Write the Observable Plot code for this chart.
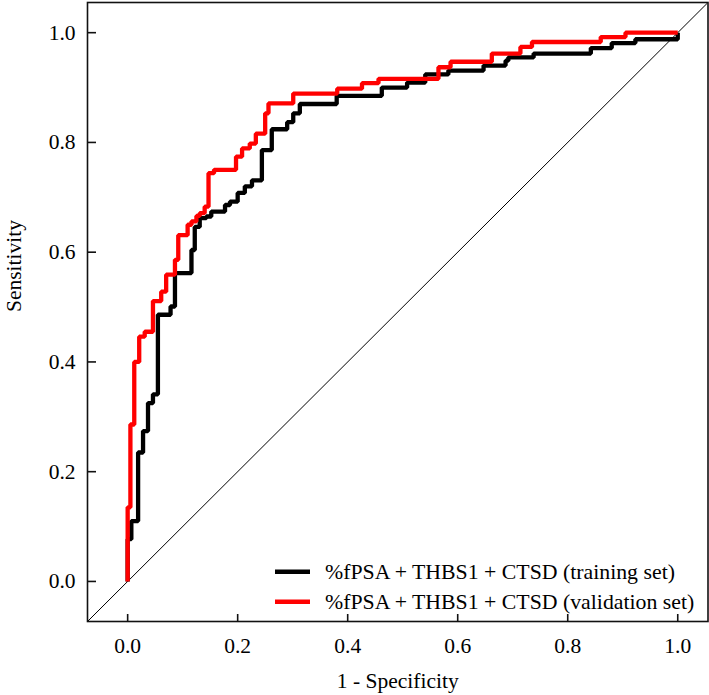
<!DOCTYPE html>
<html>
<head>
<meta charset="utf-8">
<script src="https://cdn.jsdelivr.net/npm/d3@7"></script>
<script src="https://cdn.jsdelivr.net/npm/@observablehq/plot@0.6"></script>
<style>
  body { margin: 0; background: #fff; }
  #chart { position: relative; width: 709px; height: 695px; }
  #legend { position: absolute; left: 0; top: 0; pointer-events: none; }
</style>
</head>
<body>
<div id="chart"></div>
<script>
// ---- data ----
const seriesNames = [
  "%fPSA + THBS1 + CTSD (training set)",
  "%fPSA + THBS1 + CTSD (validation set)"
];
const seriesColors = ["#000000", "#ff0000"];

const trainingFPR = [0, 0, 0.0067, 0.019, 0.028, 0.037, 0.046, 0.055, 0.078, 0.086, 0.116, 0.122, 0.131, 0.143, 0.152, 0.177, 0.186, 0.200, 0.213, 0.226, 0.244, 0.262, 0.290, 0.301, 0.313, 0.380, 0.462, 0.508, 0.541, 0.583, 0.647, 0.687, 0.692, 0.738, 0.842, 0.880, 0.923, 1.0];
const trainingTPR = [0, 0.077, 0.110, 0.235, 0.274, 0.325, 0.341, 0.486, 0.501, 0.562, 0.604, 0.646, 0.662, 0.665, 0.674, 0.686, 0.692, 0.708, 0.720, 0.731, 0.786, 0.824, 0.837, 0.853, 0.870, 0.885, 0.900, 0.909, 0.924, 0.931, 0.940, 0.949, 0.955, 0.962, 0.972, 0.981, 0.988, 1.0];

const validationFPR = [0, 0, 0.005, 0.012, 0.021, 0.031, 0.046, 0.061, 0.070, 0.086, 0.092, 0.109, 0.116, 0.125, 0.131, 0.140, 0.147, 0.157, 0.197, 0.208, 0.222, 0.233, 0.250, 0.256, 0.301, 0.381, 0.426, 0.456, 0.565, 0.587, 0.662, 0.714, 0.735, 0.860, 0.905, 1.0];
const validationTPR = [0, 0.135, 0.286, 0.400, 0.446, 0.455, 0.511, 0.528, 0.559, 0.586, 0.631, 0.650, 0.656, 0.666, 0.671, 0.683, 0.744, 0.750, 0.774, 0.789, 0.798, 0.816, 0.853, 0.871, 0.889, 0.898, 0.908, 0.916, 0.937, 0.947, 0.962, 0.974, 0.983, 0.992, 1.0, 1.0];

const xTicks = [0, 0.2, 0.4, 0.6, 0.8, 1.0];
const yTicks = [0, 0.2, 0.4, 0.6, 0.8, 1.0];
const xLabel = "1 - Specificity";
const yLabel = "Sensitivity";
const axisDomain = [-0.073, 1.055];

// ---- build tables ----
const training = trainingFPR.map((x, i) => ({x, y: trainingTPR[i], s: seriesNames[0]}));
const validation = validationFPR.map((x, i) => ({x, y: validationTPR[i], s: seriesNames[1]}));
const diagonal = axisDomain.map(v => ({x: v, y: v}));

const W = 709, H = 695;
const mL = 87, mR = 1.5, mT = 2, mB = 74;
const plotW = W - mL - mR, plotH = H - mT - mB;
const font = "'Liberation Serif', 'Times New Roman', serif";
const fs = 21.5;
const fmt = d3.format(".1f");

const chart = Plot.plot({
  width: W,
  height: H,
  marginLeft: mL,
  marginRight: mR,
  marginTop: mT,
  marginBottom: mB,
  style: {fontFamily: font, fontSize: fs + "px", color: "#000", background: "#fff"},
  x: {domain: axisDomain, label: null},
  y: {domain: axisDomain, label: null},
  marks: [
    Plot.line(diagonal, {x: "x", y: "y", stroke: "#000", strokeWidth: 1, clip: true}),
    Plot.line(training, {x: "x", y: "y", stroke: seriesColors[0], strokeWidth: 4.3, curve: "step-after", strokeLinejoin: "miter", strokeLinecap: "butt"}),
    Plot.line(validation, {x: "x", y: "y", stroke: seriesColors[1], strokeWidth: 4.3, curve: "step-after", strokeLinejoin: "miter", strokeLinecap: "butt"}),
    Plot.tickY(yTicks, {y: d => d, stroke: "#111", strokeWidth: 1.6, insetRight: plotW - 9}),
    Plot.tickX(xTicks, {x: d => d, stroke: "#111", strokeWidth: 1.6, insetTop: plotH - 7}),
    Plot.axisY(yTicks, {tickSize: 0, tickPadding: 12, tickFormat: fmt, fontSize: fs, label: null}),
    Plot.axisX(xTicks, {tickSize: 0, tickPadding: 16, tickFormat: fmt, fontSize: fs, label: null}),
    Plot.frame({stroke: "#111", strokeWidth: 1.6}),
    Plot.text([xLabel], {frameAnchor: "bottom", dy: 66, fontSize: fs, fill: "#000"}),
    Plot.text([yLabel], {frameAnchor: "left", dx: -73, rotate: -90, fontSize: fs, fill: "#000"})
  ]
});

const host = document.getElementById("chart");
host.appendChild(chart);

// ---- legend (inside plot, bottom right) ----
const ns = "http://www.w3.org/2000/svg";
const leg = document.createElementNS(ns, "svg");
leg.setAttribute("id", "legend");
leg.setAttribute("width", W);
leg.setAttribute("height", H);
const rowsY = [571.7, 601.7];
seriesNames.forEach((name, i) => {
  const ln = document.createElementNS(ns, "line");
  ln.setAttribute("x1", 275); ln.setAttribute("x2", 310);
  ln.setAttribute("y1", rowsY[i]); ln.setAttribute("y2", rowsY[i]);
  ln.setAttribute("stroke", seriesColors[i]);
  ln.setAttribute("stroke-width", 4.5);
  leg.appendChild(ln);
  const tx = document.createElementNS(ns, "text");
  tx.setAttribute("x", 325);
  tx.setAttribute("y", rowsY[i] + 6.8);
  tx.setAttribute("font-family", font);
  tx.setAttribute("font-size", fs + 0.3);
  tx.setAttribute("fill", "#000");
  tx.textContent = name;
  leg.appendChild(tx);
});
host.appendChild(leg);
</script>
</body>
</html>
